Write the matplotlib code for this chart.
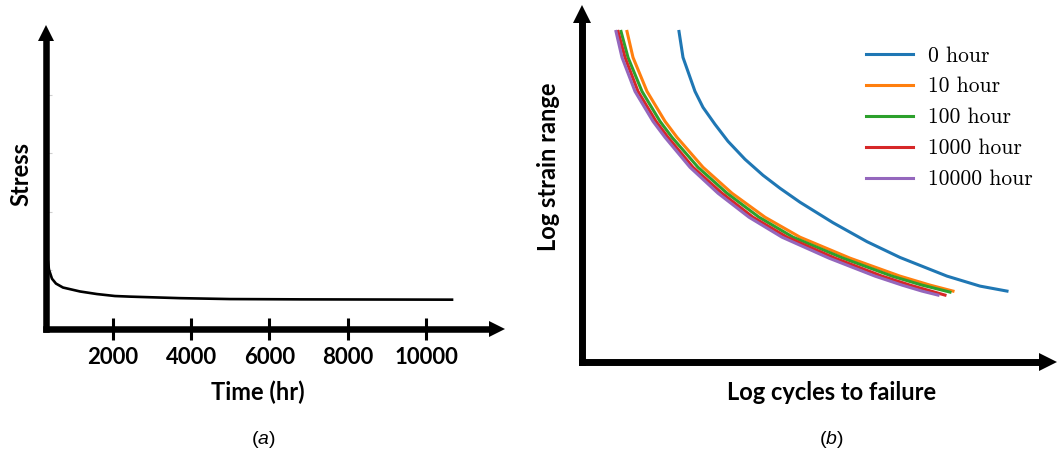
import matplotlib
matplotlib.use("Agg")
import matplotlib.pyplot as plt

# ---- (a) stress relaxation, stress in arbitrary units
time_hr = [340, 365, 442, 544, 723, 1158, 1592, 2052, 2435, 3713, 4991, 6780, 10665]
stress = [22.0, 19.4, 16.4, 14.8, 13.5, 12.2, 11.35, 10.7, 10.5, 10.0, 9.7, 9.6, 9.5]
time_ticks = [2000, 4000, 6000, 8000, 10000]
stress_ticks = [19.25, 38.5, 57.7, 77.0]

# ---- (b) strain-life curves, arbitrary log units
labels = ["0 hour", "10 hour", "100 hour", "1000 hour", "10000 hour"]
colors = ["#1f77b4", "#ff7f0e", "#2ca02c", "#d62728", "#9467bd"]

cyc_0 = [0.97, 1.01, 1.13, 1.21, 1.33, 1.46, 1.63, 1.81, 1.98, 2.18, 2.51, 2.85, 3.18, 3.65, 3.98, 4.25]
eps_0 = [3.30, 3.04, 2.70, 2.54, 2.37, 2.20, 2.02, 1.86, 1.73, 1.59, 1.385, 1.195, 1.037, 0.85, 0.75, 0.70]
cyc_10 = [0.45, 0.51, 0.65, 0.83, 0.95, 1.21, 1.50, 1.83, 2.18, 2.68, 3.18, 3.48, 3.71]
eps_10 = [3.30, 3.04, 2.70, 2.40, 2.24, 1.94, 1.68, 1.44, 1.24, 1.03, 0.85, 0.76, 0.70]
cyc_100 = [0.39, 0.46, 0.60, 0.78, 0.90, 1.16, 1.45, 1.77, 2.11, 2.61, 3.10, 3.40, 3.68]
eps_100 = [3.30, 3.04, 2.70, 2.40, 2.24, 1.94, 1.68, 1.44, 1.24, 1.03, 0.85, 0.76, 0.69]
cyc_1000 = [0.36, 0.43, 0.56, 0.74, 0.86, 1.11, 1.40, 1.71, 2.05, 2.53, 3.00, 3.28, 3.49, 3.63]
eps_1000 = [3.30, 3.04, 2.70, 2.40, 2.24, 1.94, 1.68, 1.44, 1.24, 1.03, 0.85, 0.76, 0.70, 0.66]
cyc_10000 = [0.34, 0.40, 0.53, 0.71, 0.83, 1.08, 1.36, 1.67, 2.00, 2.47, 2.93, 3.20, 3.40, 3.56]
eps_10000 = [3.30, 3.04, 2.70, 2.40, 2.24, 1.94, 1.68, 1.44, 1.24, 1.03, 0.85, 0.76, 0.70, 0.66]

plt.rcParams['mathtext.fontset'] = 'custom'
plt.rcParams['mathtext.rm'] = 'Liberation Sans'
plt.rcParams['mathtext.it'] = 'Liberation Sans:italic'

W, H = 1057, 459
def fx(px):
    return px / W
def fy(py):
    return 1 - py / H

bold = {'family': ['Lato', 'DejaVu Sans'], 'weight': 'bold', 'size': 17}
tickfont = {'family': ['Lato', 'DejaVu Sans'], 'weight': 'bold', 'size': 16}

fig = plt.figure(figsize=(W / 100, H / 100), dpi=100)


def arrow_axes(ax, wpx, hpx, lw, ms):
    for s in ax.spines.values():
        s.set_visible(False)
    head = ms * 100 / 72
    hx = head / wpx
    hy = head / hpx
    kw = dict(color='k', transform=ax.transAxes, clip_on=False)
    ax.plot([0, 1 - hx * 0.8], [0, 0], lw=lw, solid_capstyle='projecting', **kw)
    ax.plot([0, 0], [0, 1 - hy * 0.8], lw=lw, solid_capstyle='projecting', **kw)
    ax.plot([1 - hx / 2], [0], marker='>', ms=ms, mew=0, **kw)
    ax.plot([0], [1 - hy / 2], marker='^', ms=ms, mew=0, **kw)


# ---- panel (a)
a_w, a_h = 505 - 46, 328.5 - 25
ax1 = fig.add_axes([fx(46), fy(328.5), a_w / W, a_h / H])
ax1.plot(time_hr, stress, color='k', lw=1.9)
ax1.set_xlim(289, 12019)
ax1.set_ylim(0, 100)
arrow_axes(ax1, a_w, a_h, 4.7, 12.2)
ax1.set_xticks(time_ticks)
ax1.set_xticklabels([str(t) for t in time_ticks], fontdict=tickfont)
ax1.tick_params(axis='x', direction='inout', length=16.5, width=2.2, pad=5)
ax1.set_yticks(stress_ticks)
ax1.tick_params(axis='y', direction='in', length=4.5, width=0.8,
                color='#cfcfcf', labelleft=False)

fig.text(fx(258), fy(392), 'Time (hr)', ha='center', va='center', fontdict=bold)
fig.text(fx(20.5), fy(174), 'Stress', ha='center', va='center', rotation=90, fontdict=bold)
fig.text(fx(263), fy(439), r'$(\mathit{a})$', ha='center', va='center', fontsize=14)

# ---- panel (b)
b_w, b_h = 1057 - 581.5, 361.5 - 5
ax2 = fig.add_axes([fx(581.5), fy(361.5), b_w / W, b_h / H])
series = [(cyc_0, eps_0), (cyc_10, eps_10), (cyc_100, eps_100),
          (cyc_1000, eps_1000), (cyc_10000, eps_10000)]
for (xs, ys), lab, c in zip(series, labels, colors):
    ax2.plot(xs, ys, color=c, lw=2.2, label=lab)
ax2.set_xlim(-0.005, 4.75)
ax2.set_ylim(-0.005, 3.565)
arrow_axes(ax2, b_w, b_h, 5.0, 13.5)
ax2.set_xticks([])
ax2.set_yticks([])
ax2.legend(loc='upper left', bbox_to_anchor=(fx(866), fy(46)),
           bbox_transform=fig.transFigure, frameon=False,
           prop={'family': 'cmr10', 'size': 15.5}, handlelength=2.2,
           handletextpad=0.7, labelspacing=0.53, borderpad=0, borderaxespad=0)

fig.text(fx(832), fy(392), 'Log cycles to failure', ha='center', va='center', fontdict=bold)
fig.text(fx(548), fy(167), 'Log strain range', ha='center', va='center', rotation=90, fontdict=bold)
fig.text(fx(831), fy(439), r'$(\mathit{b})$', ha='center', va='center', fontsize=14)

fig.savefig('out.png', dpi=100)
